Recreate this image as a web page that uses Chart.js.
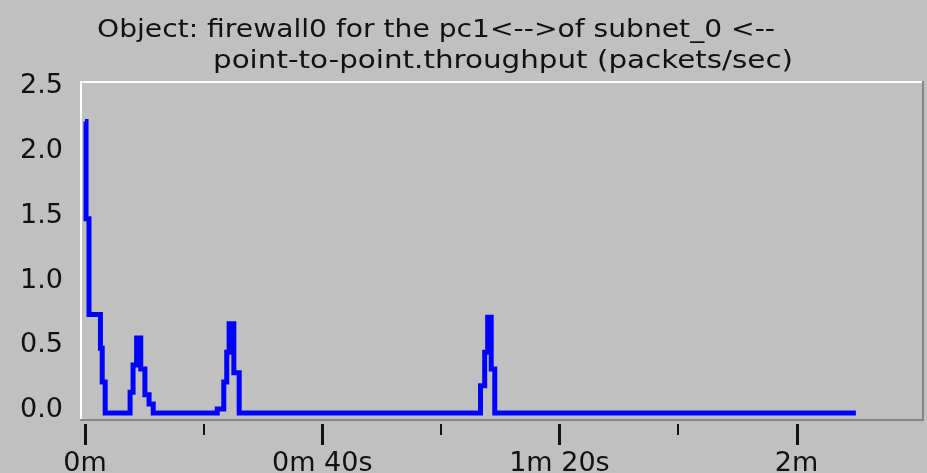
<!DOCTYPE html>
<html>
<head>
    <meta charset="UTF-8" />
    <title>firewall0 throughput</title>
    <script src="https://cdn.jsdelivr.net/npm/chart.js@4.4.0/dist/chart.umd.min.js"></script>
    <style>
        html, body {
            margin: 0;
            padding: 0;
            background-color: rgb(192, 192, 192);
        }
    </style>
</head>
<body>
    <canvas id="tputChart" width="927" height="473"></canvas>

    <script>
        var titleLines = ['Object: firewall0 for the pc1<-->of subnet_0 <--',
                          'point-to-point.throughput (packets/sec)'];

        // sample times (seconds) and throughput (packets/sec)
        var times = [0, 0.17, 0.67, 2.6, 2.9, 3.4,
                     7.6, 8.1, 8.7, 9.4, 10.1, 10.8, 11.5,
                     22.3, 23.4, 23.9, 24.3, 25.1, 26.0,
                     66.7, 67.4, 67.9, 68.5, 69.1,
                     130];
        var throughput = [2.25, 1.5, 0.76, 0.5, 0.24, 0,
                          0.16, 0.37, 0.58, 0.34, 0.14, 0.07, 0,
                          0.03, 0.24, 0.47, 0.69, 0.31, 0,
                          0.21, 0.47, 0.74, 0.34, 0,
                          0];

        var xMajorTicks = [0, 40, 80, 120];
        var xTickLabels = ['0m', '0m 40s', '1m 20s', '2m'];
        var xMinorTicks = [20, 60, 100];
        var yTicks = [0, 0.5, 1.0, 1.5, 2.0, 2.5];

        var points = times.map(function (t, i) { return { x: t, y: throughput[i] }; });

        var labelFont = { family: 'DejaVu Sans', size: 27 };

        // two title lines, stretched a bit like the old bitmap font
        var titlePlugin = {
            id: 'titleText',
            afterDraw: function (chart) {
                var ctx = chart.ctx;
                var pos = [{ x: 97, y: 37, w: 678 }, { x: 213, y: 68, w: 580 }];
                ctx.save();
                ctx.font = '24px "DejaVu Sans"';
                ctx.fillStyle = '#111';
                ctx.textBaseline = 'alphabetic';
                ctx.textAlign = 'left';
                for (let i = 0; i < titleLines.length; i++) {
                    let m = ctx.measureText(titleLines[i]).width;
                    ctx.save();
                    ctx.translate(pos[i].x, pos[i].y);
                    ctx.scale(pos[i].w / m, 1);
                    ctx.fillText(titleLines[i], 0, 0);
                    ctx.restore();
                }
                ctx.restore();
            }
        };

        // raised frame round the plot + tick marks under it
        var framePlugin = {
            id: 'plotFrame',
            beforeDatasetsDraw: function (chart) {
                var ctx = chart.ctx;
                var a = chart.chartArea;
                var xs = chart.scales.x;
                ctx.save();
                ctx.lineWidth = 2;
                ctx.strokeStyle = '#ffffff';
                ctx.beginPath();
                ctx.moveTo(a.left - 1, a.bottom);
                ctx.lineTo(a.left - 1, a.top - 1);
                ctx.lineTo(a.right, a.top - 1);
                ctx.stroke();
                ctx.strokeStyle = '#868686';
                ctx.beginPath();
                ctx.moveTo(a.right + 1, a.top - 2);
                ctx.lineTo(a.right + 1, a.bottom + 1);
                ctx.lineTo(a.left - 2, a.bottom + 1);
                ctx.stroke();

                ctx.strokeStyle = '#111';
                ctx.lineWidth = 3;
                xMajorTicks.forEach(function (v) {
                    let px = Math.round(xs.getPixelForValue(v)) + 0.5;
                    ctx.beginPath();
                    ctx.moveTo(px, a.bottom + 5);
                    ctx.lineTo(px, a.bottom + 26);
                    ctx.stroke();
                });
                ctx.lineWidth = 2;
                xMinorTicks.forEach(function (v) {
                    let px = Math.round(xs.getPixelForValue(v));
                    ctx.beginPath();
                    ctx.moveTo(px, a.bottom + 5);
                    ctx.lineTo(px, a.bottom + 16);
                    ctx.stroke();
                });
                ctx.restore();
            }
        };

        var tputChart = new Chart('tputChart', {
            type: 'line',
            data: {
                datasets: [{
                    data: points,
                    stepped: true,
                    borderColor: 'rgb(0,0,255)',
                    borderWidth: 5,
                    borderCapStyle: 'butt',
                    borderJoinStyle: 'miter',
                    pointRadius: 0,
                    fill: false
                }]
            },
            options: {
                responsive: false,
                animation: false,
                devicePixelRatio: 1,
                layout: { padding: { top: 83, right: 5, left: 0, bottom: 0 } },
                plugins: {
                    legend: { display: false },
                    title: { display: false },
                    tooltip: { enabled: false }
                },
                scales: {
                    x: {
                        type: 'linear',
                        min: -0.51,
                        max: 141.15,
                        afterFit: function (s) { s.height = 54; },
                        afterBuildTicks: function (s) {
                            s.ticks = xMajorTicks.map(function (v) { return { value: v }; });
                        },
                        ticks: {
                            autoSkip: false,
                            maxRotation: 0,
                            minRotation: 0,
                            padding: 29,
                            color: '#111',
                            font: labelFont,
                            callback: function (v, i) { return xTickLabels[i]; }
                        },
                        grid: { display: false, drawTicks: false },
                        border: { display: false }
                    },
                    y: {
                        min: -0.0463,
                        max: 2.548,
                        afterFit: function (s) { s.width = 82; },
                        afterBuildTicks: function (s) {
                            s.ticks = yTicks.map(function (v) { return { value: v }; });
                        },
                        ticks: {
                            padding: 19,
                            labelOffset: -3,
                            color: '#111',
                            font: labelFont,
                            callback: function (v) { return v.toFixed(1); }
                        },
                        grid: { display: false, drawTicks: false },
                        border: { display: false }
                    }
                }
            },
            plugins: [framePlugin, titlePlugin]
        });
    </script>
</body>
</html>
